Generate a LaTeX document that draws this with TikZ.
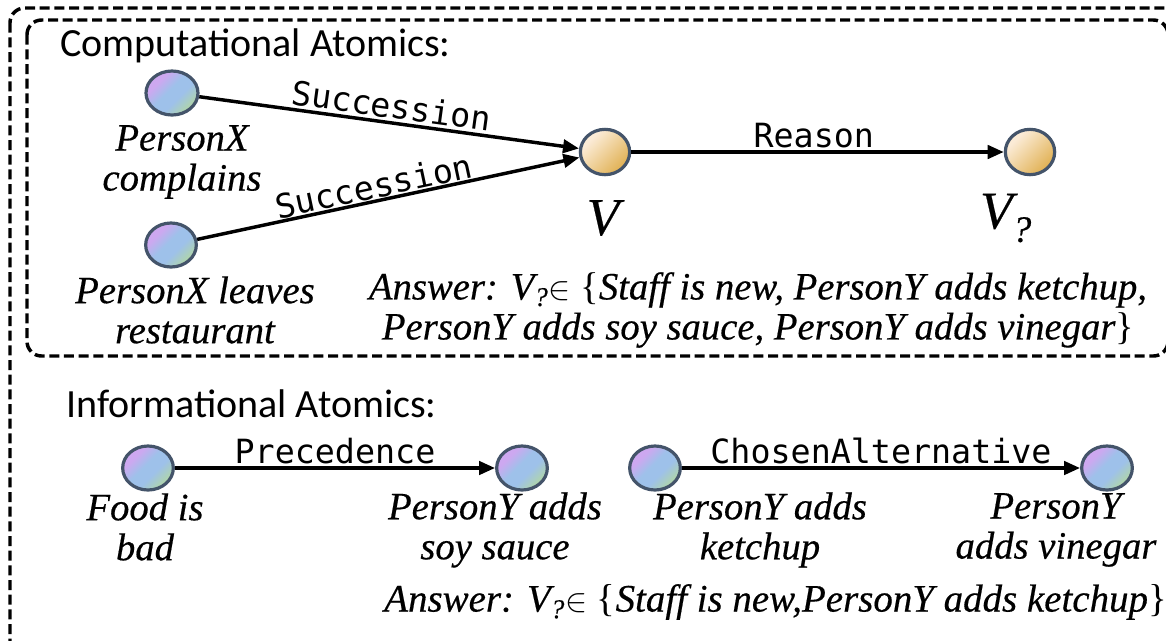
\documentclass[tikz,border=0pt]{standalone}
\usepackage{fontspec}
\setmainfont{Liberation Serif}[ItalicFeatures={FakeBold=0.4}]
\newfontfamily\headfont{Carlito}
\newfontfamily\monofont{DejaVu Sans Mono}
\usetikzlibrary{arrows.meta,shapes.geometric}
\definecolor{cpurple}{HTML}{CDA8F0}
\definecolor{cblue}{HTML}{9EC1EA}
\definecolor{cgreen}{HTML}{AED3B0}
\definecolor{ccream}{HTML}{FBEBD6}
\definecolor{cgold}{HTML}{E2B45A}
\definecolor{cborder}{HTML}{44546A}
\pgfdeclarehorizontalshading{bluegrad}{100bp}{color(0bp)=(cpurple); color(32bp)=(cpurple); color(46bp)=(cblue); color(58bp)=(cblue); color(72bp)=(cgreen); color(100bp)=(cgreen)}
\pgfdeclarehorizontalshading{goldgrad}{100bp}{color(0bp)=(ccream); color(30bp)=(ccream); color(72bp)=(cgold); color(100bp)=(cgold)}
\tikzset{
  bnode/.style={ellipse, draw=cborder, line width=2.4pt, minimum width=38pt, minimum height=33pt, inner sep=0pt, shading=bluegrad, shading angle=-45},
  onode/.style={ellipse, draw=cborder, line width=2.4pt, minimum width=37pt, minimum height=34pt, inner sep=0pt, shading=goldgrad, shading angle=-45},
  itl/.style={font=\itshape\fontsize{29}{30}\selectfont, align=center, inner sep=0pt},
  head/.style={font=\headfont\fontsize{30}{34}\selectfont, anchor=west, inner sep=0pt},
  rel/.style={font=\monofont\fontsize{25}{28}\selectfont, inner sep=2pt},
  conn/.style={line width=2.6pt, -{Triangle[length=12pt,width=10pt]}},
  dbox/.style={line width=2.6pt, dash pattern=on 7.5pt off 3.5pt, rounded corners=11pt}
}
\newcommand{\Vq}{V\textsubscript{?}}
\begin{document}
\begin{tikzpicture}[x=0.75pt,y=-0.75pt]
\useasboundingbox (0,0) rectangle (1166,640);
\clip (0,0) rectangle (1166,640);
\draw[dbox] (10,8) rectangle (1182,662);
\draw[dbox] (27,20) rectangle (1168,356);

\node[head] (h1) at (60,46) {Computational Atomics:};
\node[head] (h2) at (66,404) {Informational Atomics:};

\node[bnode, minimum width=39pt] (a1) at (172,93) {};
\node[bnode] (a2) at (171,245) {};
\node[onode] (v) at (605,152) {};
\node[onode] (vq) at (1030,152) {};

\node[itl] (la1) at (182,162) {PersonX\\complains};
\node[itl] (la2) at (195,310) {PersonX leaves\\restaurant};
\node[itl, font=\itshape\fontsize{40}{42}\selectfont] (lv) at (603,218) {V};
\node[itl, font=\itshape\fontsize{40}{42}\selectfont] (lvq) at (1006,218) {\Vq};
\node[itl] (ans1) at (758,310) {Answer: \Vq{}$\in$ {\upshape\{}Staff is new, PersonY adds ketchup,\\PersonY adds soy sauce, PersonY adds vinegar{\upshape\}}};

\draw[conn] (a1) -- node[rel, sloped, above, pos=0.5] {Succession} (v);
\draw[conn] (a2) -- node[rel, sloped, above, pos=0.47, inner sep=0.5pt] {Succession} (v);
\draw[conn] (v) -- node[rel, above, pos=0.49] {Reason} (vq);

\node[bnode] (f) at (148,468) {};
\node[bnode] (s) at (522,468) {};
\node[bnode] (k) at (655,468) {};
\node[bnode] (vin) at (1107,468) {};

\node[itl] (lf) at (145,527) {Food is\\bad};
\node[itl] (ls) at (495,530) {PersonY adds\\soy sauce};
\node[itl] (lk) at (760,530) {PersonY adds\\ketchup};
\node[itl] (lvin) at (1056,530) {PersonY\\adds vinegar};
\node[itl, anchor=west, font=\itshape\fontsize{29.2}{31}\selectfont] (ans2) at (384,602) {Answer: \Vq{}$\in$ {\upshape\{}Staff is new,PersonY adds ketchup{\upshape\}}};

\draw[conn] (f) -- node[rel, above] {Precedence} (s);
\draw[conn] (k) -- node[rel, above] {ChosenAlternative} (vin);
\end{tikzpicture}
\end{document}
